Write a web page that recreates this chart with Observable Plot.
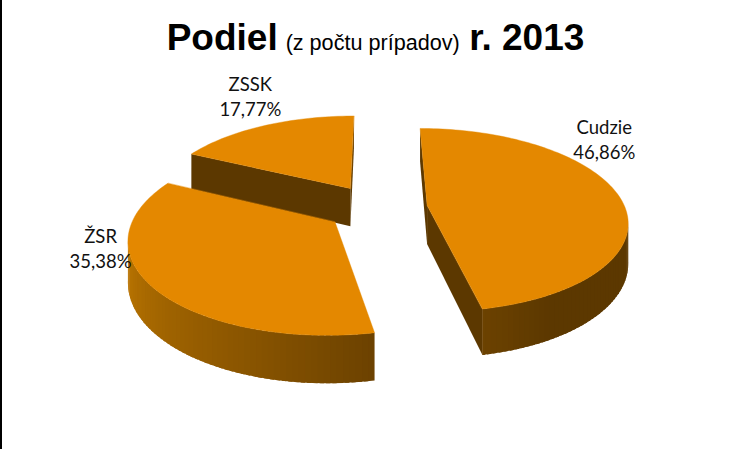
<!DOCTYPE html>
<html>
<head>
<meta charset="utf-8">
<script src="https://cdn.jsdelivr.net/npm/d3@7"></script>
<script src="https://cdn.jsdelivr.net/npm/@observablehq/plot@0.6"></script>
<style>
  html, body { margin: 0; padding: 0; background: #fff; overflow: hidden; }
  #edge { position: absolute; left: 0; top: 0; width: 1.5px; height: 449px; background: #000; z-index: 2; }
  #title { height: 70px; width: 751px; text-align: center; white-space: nowrap; font-family: "Liberation Sans", Arial, sans-serif;
           color: #000; box-sizing: border-box; padding-top: 16px; line-height: 44px; }
  #title b { font-size: 37px; font-weight: 700; }
  #title span { font-size: 21.6px; margin: 0 5px 0 3.5px; }
  svg { display: block; }
</style>
</head>
<body>
<div id="edge"></div>
<div id="title"><b>Podiel</b> <span>(z počtu prípadov)</span> <b>r. 2013</b></div>
<div id="chart"></div>
<script>
// Data
const categories = ["Cudzie", "ŽSR", "ZSSK"];
const shares = [46.86, 35.38, 17.77];
const labels = ["46,86%", "35,38%", "17,77%"];

// Pie view settings (unit radius = 1)
const explode = 0.258;
const camera = 6.2;      // distance of the camera from the pie centre
const horizon = 2.717;   // height of the horizon above the pie centre
const depth = 0.19;      // thickness of the pie
const xStretch = 0.965;
const radiusPx = 205, centreX = 376, centreY = 207, titleH = 70, W = 751, H = 449;
const labelAngle = [56.2, 252.3, 332.9];
const labelRadius = [1.582, 1.366, 1.752];

// Colours
const topColor = "#E48800";
const faceColor = "#5C3800";
const wallAngles = [150, 168.7, 200, 235, 270];
const wallColors = ["#5C3800", "#6C4200", "#8A5500", "#A86900", "#C67C04"];
const wallColor = d3.scaleLinear().domain(wallAngles).range(wallColors).clamp(true);

const rad = Math.PI / 180;
const total = d3.sum(shares);

function project(X, Y, low) {
  const s = camera / (camera - Y);
  return {x: X * s * xStretch, y: -horizon + (horizon + (low ? depth : 0)) * s};
}

let a = 0;
const slices = categories.map((name, i) => {
  const a0 = a, a1 = a + shares[i] / total * 360;
  a = a1;
  const mid = (a0 + a1) / 2 * rad;
  return {name, i, a0, a1, ox: Math.sin(mid) * explode, oy: -Math.cos(mid) * explode};
});

const polys = [];
const tops = [];
function addPoly(target, id, pts, fill) {
  pts.forEach(p => target.push({id, x: p.x, y: p.y, fill}));
}
function area2(q) {
  return d3.sum(q, (p, i) => {
    const n = q[(i + 1) % q.length];
    return p.x * n.y - n.x * p.y;
  });
}
function rimPoint(s, deg) {
  return [s.ox + Math.sin(deg * rad), s.oy - Math.cos(deg * rad)];
}

// painter's order: back slice first
const layers = [2, 1, 0].map(k => {
  const s = slices[k];
  const walls = [], top = [];
  const tip = [s.ox, s.oy];
  const steps = d3.range(s.a0, s.a1, 1.5).concat([s.a1]);
  const wall = (id, p, q, fill) => {
    const quad = [project(p[0], p[1], false), project(q[0], q[1], false), project(q[0], q[1], true), project(p[0], p[1], true)];
    if (area2(quad) < 0) addPoly(walls, id, quad, fill);
  };
  // flat cut faces
  wall(s.name + "-f0", tip, rimPoint(s, s.a0), faceColor);
  wall(s.name + "-f1", rimPoint(s, s.a1), tip, faceColor);
  // curved outer wall: each strip overlaps the next so no seams show
  d3.pairs(steps).forEach(([u, v], j) => {
    wall(s.name + "-w" + j, rimPoint(s, u), rimPoint(s, Math.min(v + 1, s.a1)), wallColor((u + v) / 2));
  });
  // top
  const pts = [project(tip[0], tip[1], false)].concat(steps.map(d => {
    const r = rimPoint(s, d);
    return project(r[0], r[1], false);
  }));
  addPoly(top, s.name + "-top", pts, topColor);
  return {walls, top};
});

const labelData = slices.map((s, i) => {
  const p = project(Math.sin(labelAngle[i] * rad) * labelRadius[i], -Math.cos(labelAngle[i] * rad) * labelRadius[i], false);
  return {x: p.x, y: p.y, text: s.name + "\n" + labels[i]};
});

const chart = Plot.plot({
  width: W,
  height: H - titleH,
  margin: 0,
  style: {background: "transparent"},
  x: {domain: [-centreX / radiusPx, (W - centreX) / radiusPx], range: [0, W], axis: null},
  y: {domain: [(titleH - centreY) / radiusPx, (H - centreY) / radiusPx], range: [0, H - titleH], axis: null},
  marks: [
    layers.flatMap(l => [
      Plot.line(l.walls, {x: "x", y: "y", z: "id", fill: "fill", stroke: "none", curve: "linear-closed"}),
      Plot.line(l.top, {x: "x", y: "y", z: "id", fill: "fill", stroke: "fill", strokeWidth: 0.4, curve: "linear-closed"})
    ]),
    Plot.text(labelData, {x: "x", y: "y", text: "text", fontSize: 18.5, lineHeight: 1.35, fontFamily: "Lato, Carlito, sans-serif", fill: "#111", textAnchor: "middle"})
  ]
});
document.getElementById("chart").appendChild(chart);
</script>
</body>
</html>
